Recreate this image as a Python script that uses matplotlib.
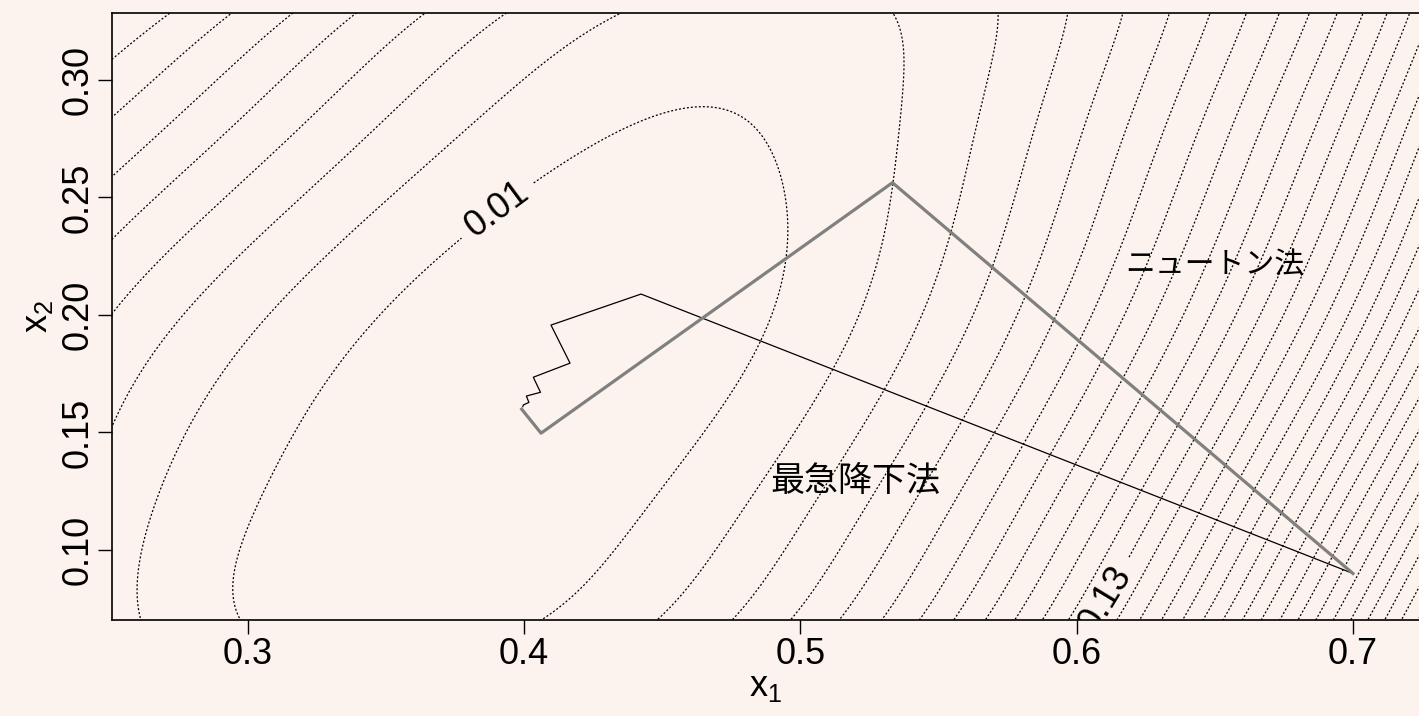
import numpy as np
import matplotlib
matplotlib.use("Agg")
import matplotlib.pyplot as plt

plt.rcParams['font.family'] = ['Liberation Sans', 'Noto Sans CJK JP']

BG = '#fdf3ee'

# paths of the two methods (start at (0.70, 0.09))
sd_x1 = [0.700, 0.4423, 0.4097, 0.4166, 0.4033, 0.4059, 0.4008, 0.4017, 0.3997, 0.3995]
sd_x2 = [0.090, 0.2089, 0.1957, 0.1795, 0.1735, 0.1671, 0.1655, 0.1628, 0.1617, 0.1610]
nt_x1 = [0.700, 0.5333, 0.4061, 0.3991]
nt_x2 = [0.090, 0.2563, 0.1497, 0.1599]

# contour lines: level and points along each piece
trace_level = [0.01, 0.02, 0.02, 0.03, 0.03, 0.04, 0.04,
               0.05, 0.05, 0.06, 0.06, 0.07, 0.07, 0.08, 0.08, 0.09, 0.09,
               0.10, 0.11, 0.12, 0.13, 0.14, 0.15, 0.16, 0.17, 0.18, 0.19, 0.20,
               0.21, 0.22, 0.23, 0.24, 0.25, 0.26, 0.27, 0.28, 0.29]
trace_x1 = [
    [0.3007, 0.2982, 0.3018, 0.3177, 0.3434, 0.3706, 0.3985, 0.4093, 0.4309, 0.4481,
     0.4683, 0.4792, 0.4915, 0.4962, 0.4990, 0.4962, 0.4900, 0.4871, 0.4719, 0.4491, 0.4129],
    [0.2573, 0.2681, 0.2862, 0.3069, 0.3586, 0.4129, 0.4394],
    [0.5342, 0.5407, 0.5371, 0.5208, 0.5107, 0.4937, 0.4491],
    [0.2511, 0.2779, 0.3043, 0.3358, 0.3938],
    [0.5733, 0.5722, 0.5541, 0.5433, 0.5252, 0.4752],
    [0.2500, 0.3105, 0.3623],
    [0.5976, 0.5722, 0.5624, 0.5522, 0.5361, 0.4955],
    [0.2500, 0.3358], [0.6175, 0.5787, 0.5132],
    [0.2500, 0.3134], [0.6338, 0.5947, 0.5281],
    [0.2500, 0.2924], [0.6475, 0.6055, 0.5425],
    [0.2500, 0.2728], [0.6616, 0.6175, 0.5559],
    [0.2500, 0.2519], [0.6729, 0.6283, 0.5697],
    [0.6844, 0.6374, 0.5795],
    [0.6942, 0.6482, 0.5878],
    [0.7036, 0.6573, 0.5965],
    [0.7127, 0.6671, 0.6084],
    [0.7206, 0.6747, 0.6157],
    [0.6834, 0.6229],
    [0.6906, 0.6309],
    [0.6982, 0.6385],
    [0.7051, 0.6457],
    [0.7123, 0.6526],
    [0.7188, 0.6595],
    [0.7239, 0.6663], [0.7239, 0.6732], [0.7239, 0.6797], [0.7239, 0.6862],
    [0.7239, 0.6928], [0.7239, 0.6993], [0.7239, 0.7054], [0.7239, 0.7116],
    [0.7239, 0.7177],
]
trace_x2 = [
    [0.0702, 0.0915, 0.1200, 0.1626, 0.2021, 0.2332, 0.2604, 0.2681, 0.2809, 0.2872,
     0.2915, 0.2894, 0.2800, 0.2715, 0.2587, 0.2247, 0.1991, 0.1885, 0.1553, 0.1140, 0.0702],
    [0.0702, 0.1285, 0.1694, 0.2021, 0.2553, 0.3115, 0.3285],
    [0.3285, 0.3013, 0.2562, 0.1991, 0.1736, 0.1311, 0.0702],
    [0.1553, 0.2021, 0.2349, 0.2655, 0.3285],
    [0.3285, 0.3157, 0.2306, 0.2021, 0.1596, 0.0702],
    [0.2013, 0.2660, 0.3285],
    [0.3285, 0.2562, 0.2021, 0.1736, 0.1311, 0.0702],
    [0.2328, 0.3285], [0.3285, 0.1979, 0.0702],
    [0.2596, 0.3285], [0.3285, 0.1979, 0.0702],
    [0.2838, 0.3285], [0.3285, 0.1979, 0.0702],
    [0.3055, 0.3285], [0.3285, 0.1979, 0.0702],
    [0.3264, 0.3285], [0.3285, 0.1979, 0.0702],
    [0.3285, 0.1979, 0.0702],
    [0.3285, 0.1979, 0.0702],
    [0.3285, 0.1979, 0.0702],
    [0.3285, 0.1979, 0.0702],
    [0.3285, 0.1979, 0.0702],
    [0.1979, 0.0702],
    [0.1979, 0.0702],
    [0.1979, 0.0702],
    [0.1979, 0.0702],
    [0.1979, 0.0702],
    [0.1979, 0.0702],
    [0.1932, 0.0702], [0.1787, 0.0702], [0.1647, 0.0702], [0.1506, 0.0702],
    [0.1366, 0.0702], [0.1230, 0.0702], [0.1098, 0.0702], [0.0966, 0.0702],
    [0.0834, 0.0702],
]
min_x1, min_x2, min_f = 0.400, 0.161, 0.004

levels = np.round(np.arange(0.01, 0.41, 0.01), 2)
label_levels = [0.01, 0.13]
xlim = (0.2508, 0.7239)
ylim = (0.0702, 0.3285)


def scaled(a, b):
    return (np.asarray(a) - 0.49) / 0.24, (np.asarray(b) - 0.20) / 0.13


def basis(u, v, deg=6):
    return np.stack([u ** i * v ** j for i in range(deg + 1) for j in range(deg + 1 - i)], axis=-1)


# resample the traced pieces and fit a smooth surface through them
pts_a, pts_b, pts_f = [], [], []
for lev, xs, ys in zip(trace_level, trace_x1, trace_x2):
    xs = np.asarray(xs, float)
    ys = np.asarray(ys, float)
    s = np.r_[0, np.cumsum(np.hypot(np.diff(xs), np.diff(ys)))]
    t = np.linspace(0, s[-1], max(int(s[-1] / 0.004), 2))
    pts_a.append(np.interp(t, s, xs))
    pts_b.append(np.interp(t, s, ys))
    pts_f.append(np.full(len(t), lev))
pts_a.append(np.full(20, min_x1))
pts_b.append(np.full(20, min_x2))
pts_f.append(np.full(20, min_f))
pa, pb, pf = np.concatenate(pts_a), np.concatenate(pts_b), np.concatenate(pts_f)

A = basis(*scaled(pa, pb))
coef = np.linalg.solve(A.T @ A + 2e-5 * np.eye(A.shape[1]), A.T @ pf)

gx = np.linspace(xlim[0] - 0.01, xlim[1] + 0.01, 500)
gy = np.linspace(ylim[0] - 0.01, ylim[1] + 0.01, 350)
GX, GY = np.meshgrid(gx, gy)
Z = basis(*scaled(GX, GY)) @ coef

fig = plt.figure(figsize=(14.19, 7.16), dpi=100, facecolor=BG)
ax = fig.add_axes([112 / 1419, 1 - 620 / 716, 1 - 112 / 1419, (620 - 13) / 716])
ax.set_facecolor(BG)

dots = (0, (1.6, 1.6))
plain = [lv for lv in levels if lv not in label_levels]
c1 = ax.contour(GX, GY, Z, levels=plain, colors='black', linewidths=0.9)
cs = ax.contour(GX, GY, Z, levels=label_levels, colors='black', linewidths=0.9)
c1.set_linestyle(dots)
cs.set_linestyle(dots)
lbls = ax.clabel(cs, manual=[(0.387, 0.250), (0.612, 0.078)],
                 inline=True, fmt='%.2f', fontsize=26, inline_spacing=8)
for t in lbls:
    t.set_clip_path(ax.patch)

ax.plot(sd_x1, sd_x2, color='black', lw=0.9, zorder=3)
ax.plot(nt_x1, nt_x2, color='#808080', lw=2.3, zorder=3)

ax.text(0.5197, 0.129, '最急降下法', fontsize=24.5, ha='center', va='center')
ax.text(0.650, 0.2213, 'ニュートン法', fontsize=21.5, ha='center', va='center')

ax.set_xlim(*xlim)
ax.set_ylim(*ylim)
ax.set_xticks([0.3, 0.4, 0.5, 0.6, 0.7])
ax.set_xticklabels(['0.3', '0.4', '0.5', '0.6', '0.7'])
ax.set_yticks([0.10, 0.15, 0.20, 0.25, 0.30])
ax.set_yticklabels(['0.10', '0.15', '0.20', '0.25', '0.30'], rotation=90, va='center')
ax.tick_params(labelsize=26, length=10, width=1, direction='out', pad=2)
ax.spines['right'].set_visible(False)
for side in ['left', 'bottom', 'top']:
    ax.spines[side].set_linewidth(1.2)

ax.set_xlabel(r'$\mathregular{x_1}$', fontsize=26, labelpad=-2)
ax.set_ylabel(r'$\mathregular{x_2}$', fontsize=26, labelpad=4)

fig.savefig('out.png', dpi=100, facecolor=BG)
